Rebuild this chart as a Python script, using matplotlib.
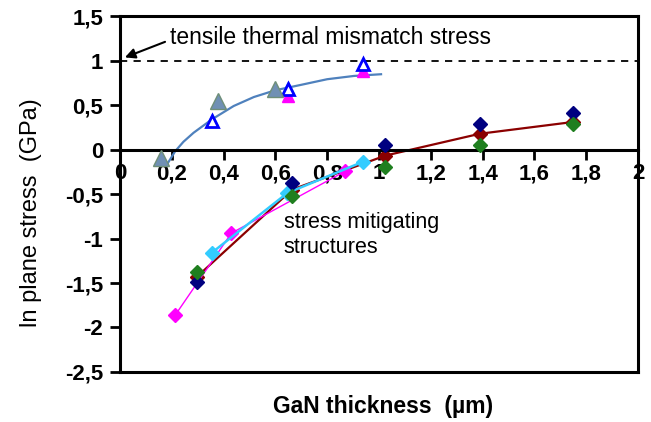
import matplotlib
matplotlib.use('Agg')
import matplotlib.pyplot as plt

plt.rcParams['font.family'] = ['Liberation Sans', 'DejaVu Sans']

# triangle series (upper branch)
tri_fill_x = [0.16, 0.38, 0.60]
tri_fill_y = [-0.09, 0.545, 0.677]
tri_open_x = [0.355, 0.65, 0.94]
tri_open_y = [0.32, 0.677, 0.96]
tri_mag_x = [0.65, 0.94]
tri_mag_y = [0.60, 0.88]
tri_cyan_x = [0.355, 0.65]
tri_cyan_y = [0.33, 0.69]

# trend curve for the triangles
trend_x = [0.181, 0.213, 0.245, 0.284, 0.355, 0.439, 0.517, 0.60, 0.698, 0.80, 0.904, 1.008]
trend_y = [-0.17, -0.02, 0.087, 0.188, 0.339, 0.489, 0.59, 0.666, 0.726, 0.79, 0.827, 0.846]

# diamond series (stress mitigating structures)
mag_x = [0.213, 0.43, 0.869]
mag_y = [-1.862, -0.94, -0.245]
cyan_x = [0.355, 0.646, 0.937]
cyan_y = [-1.159, -0.489, -0.139]
navy_x = [0.297, 0.665, 1.025, 1.389, 1.751]
navy_y = [-1.486, -0.376, 0.056, 0.29, 0.406]
green_x = [0.297, 0.665, 1.025, 1.389, 1.751]
green_y = [-1.373, -0.519, -0.196, 0.056, 0.29]
red_x = [0.297, 0.665, 1.025, 1.389, 1.751]
red_y = [-1.43, -0.45, -0.068, 0.177, 0.31]

x_ticks = [0, 0.2, 0.4, 0.6, 0.8, 1, 1.2, 1.4, 1.6, 1.8, 2]
x_labels = ['0', '0,2', '0,4', '0,6', '0,8', '1', '1,2', '1,4', '1,6', '1,8', '2']
y_ticks = [-2.5, -2, -1.5, -1, -0.5, 0, 0.5, 1, 1.5]
y_labels = ['-2,5', '-2', '-1,5', '-1', '-0,5', '0', '0,5', '1', '1,5']

fig = plt.figure(figsize=(6.51, 4.22), dpi=100)
ax = fig.add_axes([0.1843, 0.1185, 0.7957, 0.8435])

ax.axhline(1, color='black', lw=1.3, ls=(0, (4, 3.5)), zorder=1)

ax.plot(trend_x, trend_y, color='#4f81bd', lw=1.6, zorder=2)
ax.plot(red_x, red_y, color='#8b0000', lw=1.6, marker='D', ms=7, zorder=2)
ax.plot(mag_x, mag_y, color='#ff00ff', lw=1.0, marker='D', ms=7, zorder=3)
ax.plot(cyan_x, cyan_y, color='#33ccff', lw=1.8, marker='D', ms=7, zorder=3)
ax.plot(navy_x, navy_y, ls='none', color='#000080', marker='D', ms=7, zorder=4)
ax.plot(green_x, green_y, ls='none', color='#1f7f1f', marker='D', ms=7, zorder=4)

ax.plot(tri_cyan_x, tri_cyan_y, ls='none', marker='^', ms=9, color='#33ccff', zorder=4)
ax.plot(tri_mag_x, tri_mag_y, ls='none', marker='^', ms=9, color='#ff00ff', zorder=4)
ax.plot(tri_open_x, tri_open_y, ls='none', marker='^', ms=9, mfc='white', mec='#0000ff',
        mew=2, zorder=5)
ax.plot(tri_fill_x, tri_fill_y, ls='none', marker='^', ms=11, color='#7090b4', mec='#6f8f78',
        zorder=5)

ax.set_xlim(0, 2)
ax.set_ylim(-2.5, 1.5)

for s in ax.spines.values():
    s.set_linewidth(2.2)
ax.spines['bottom'].set_position(('data', 0))
ax.axhline(-2.5, color='black', lw=2.2, clip_on=False, zorder=6)

ax.set_xticks(x_ticks)
ax.set_xticklabels(x_labels, fontsize=16, fontweight='bold')
ax.set_yticks(y_ticks)
ax.set_yticklabels(y_labels, fontsize=16, fontweight='bold')
ax.tick_params(axis='x', direction='out', length=7, width=2, pad=3)
ax.tick_params(axis='y', direction='out', length=7, width=2, pad=5)

ax.set_ylabel('ln plane stress  (GPa)', fontsize=17)
ax.yaxis.set_label_coords(-0.151, 0.449)
fig.text(0.588, 0.0213, 'GaN thickness  (µm)', fontsize=16.5, fontweight='bold',
         ha='center', va='baseline')

ax.annotate('', xy=(0.019, 1.035), xytext=(0.174, 1.21),
            arrowprops=dict(arrowstyle='-|>', color='black', lw=1.5,
                            mutation_scale=15, shrinkA=0, shrinkB=0),
            zorder=7)
ax.text(0.195, 1.185, 'tensile thermal mismatch stress', fontsize=16.5, va='baseline',
        ha='left')
ax.text(0.632, -0.88, 'stress mitigating', fontsize=15.5, va='baseline', ha='left')
ax.text(0.632, -1.163, 'structures', fontsize=15.5, va='baseline', ha='left')

fig.savefig('out.png', dpi=100)
